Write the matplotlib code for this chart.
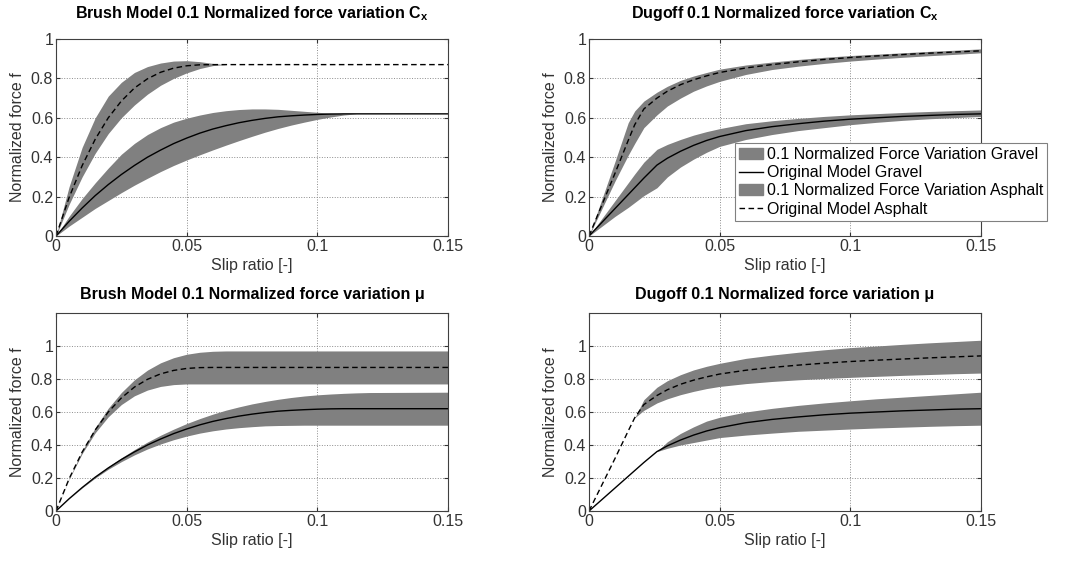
import matplotlib
matplotlib.use("Agg")
import matplotlib.pyplot as plt
from matplotlib.patches import Patch
from matplotlib.lines import Line2D

plt.rcParams["font.family"] = ["Liberation Sans", "DejaVu Sans"]
plt.rcParams["mathtext.fontset"] = "custom"
plt.rcParams["mathtext.rm"] = "Liberation Sans"
plt.rcParams["mathtext.bf"] = "Liberation Sans:bold"

# ---- brush model (left column) ----
brush_slip = [0, .005, .01, .015, .02, .025, .03, .035, .04, .045, .05, .055, .06,
              .065, .07, .075, .08, .085, .09, .095, .1, .105, .11, .115, .12, .15]

brush_asphalt = [0, 0.195, 0.357, 0.491, 0.600, 0.685, 0.751, 0.798, 0.831, 0.852, 0.864, 0.869, 0.87,
                 0.87, 0.87, 0.87, 0.87, 0.87, 0.87, 0.87, 0.87, 0.87, 0.87, 0.87, 0.87, 0.87]
brush_gravel = [0, 0.074, 0.142, 0.205, 0.261, 0.312, 0.358, 0.400, 0.436, 0.469, 0.497, 0.522, 0.543,
                0.560, 0.575, 0.587, 0.597, 0.605, 0.610, 0.614, 0.617, 0.619, 0.62, 0.62, 0.62, 0.62]

# Cx variation bands
brush_cx_asphalt_hi = [0, 0.25, 0.45, 0.60, 0.71, 0.78, 0.83, 0.86, 0.878, 0.888, 0.89, 0.885, 0.876,
                       0.87, 0.87, 0.87, 0.87, 0.87, 0.87, 0.87, 0.87, 0.87, 0.87, 0.87, 0.87, 0.87]
brush_cx_asphalt_lo = [0, 0.16, 0.30, 0.42, 0.52, 0.60, 0.665, 0.72, 0.765, 0.80, 0.828, 0.85, 0.865,
                       0.87, 0.87, 0.87, 0.87, 0.87, 0.87, 0.87, 0.87, 0.87, 0.87, 0.87, 0.87, 0.87]
brush_cx_gravel_hi = [0, 0.10, 0.19, 0.27, 0.345, 0.415, 0.47, 0.515, 0.55, 0.578, 0.598, 0.614, 0.627,
                      0.636, 0.642, 0.645, 0.645, 0.643, 0.638, 0.633, 0.628, 0.624, 0.621, 0.62, 0.62, 0.62]
brush_cx_gravel_lo = [0, 0.05, 0.095, 0.14, 0.18, 0.22, 0.258, 0.293, 0.327, 0.358, 0.386, 0.412, 0.437,
                      0.461, 0.484, 0.506, 0.527, 0.546, 0.563, 0.578, 0.592, 0.604, 0.614, 0.62, 0.62, 0.62]

# mu variation bands
brush_mu_asphalt_hi = [0, 0.196, 0.364, 0.505, 0.623, 0.718, 0.795, 0.854, 0.898, 0.929, 0.950, 0.962, 0.968,
                       0.97, 0.97, 0.97, 0.97, 0.97, 0.97, 0.97, 0.97, 0.97, 0.97, 0.97, 0.97, 0.97]
brush_mu_asphalt_lo = [0, 0.192, 0.348, 0.474, 0.571, 0.645, 0.698, 0.733, 0.755, 0.766, 0.77, 0.77, 0.77,
                       0.77, 0.77, 0.77, 0.77, 0.77, 0.77, 0.77, 0.77, 0.77, 0.77, 0.77, 0.77, 0.77]
brush_mu_gravel_hi = [0, 0.075, 0.144, 0.208, 0.268, 0.322, 0.372, 0.418, 0.459, 0.496, 0.530, 0.560, 0.587,
                      0.611, 0.631, 0.649, 0.664, 0.677, 0.688, 0.697, 0.704, 0.709, 0.713, 0.716, 0.718, 0.72]
brush_mu_gravel_lo = [0, 0.074, 0.140, 0.200, 0.253, 0.299, 0.340, 0.376, 0.406, 0.432, 0.454, 0.472, 0.486,
                      0.497, 0.505, 0.511, 0.516, 0.518, 0.519, 0.52, 0.52, 0.52, 0.52, 0.52, 0.52, 0.52]

# ---- Dugoff model (right column) ----
dugoff_slip = [0, .005, .01, .015, .0175, .021, .026, .03, .035, .04, .045, .05,
               .06, .07, .08, .09, .1, .11, .12, .13, .14, .15]

dugoff_asphalt = [0, 0.16, 0.32, 0.485, 0.565, 0.645, 0.70, 0.735, 0.768, 0.793, 0.813, 0.83,
                  0.853, 0.87, 0.884, 0.896, 0.906, 0.914, 0.921, 0.928, 0.934, 0.94]
dugoff_gravel = [0, 0.07, 0.14, 0.21, 0.245, 0.294, 0.36, 0.395, 0.43, 0.46, 0.485, 0.505,
                 0.535, 0.555, 0.57, 0.583, 0.593, 0.60, 0.607, 0.612, 0.617, 0.62]

dugoff_cx_asphalt_hi = [0, 0.19, 0.38, 0.575, 0.635, 0.685, 0.73, 0.76, 0.79, 0.812, 0.83, 0.847,
                        0.868, 0.883, 0.896, 0.907, 0.916, 0.923, 0.93, 0.937, 0.943, 0.95]
dugoff_cx_asphalt_lo = [0, 0.14, 0.28, 0.41, 0.47, 0.55, 0.615, 0.66, 0.70, 0.735, 0.762, 0.785,
                        0.82, 0.845, 0.862, 0.876, 0.888, 0.898, 0.907, 0.915, 0.922, 0.93]
dugoff_cx_gravel_hi = [0, 0.09, 0.18, 0.27, 0.315, 0.375, 0.44, 0.465, 0.49, 0.512, 0.53, 0.545,
                       0.57, 0.585, 0.597, 0.607, 0.615, 0.621, 0.627, 0.632, 0.636, 0.64]
dugoff_cx_gravel_lo = [0, 0.05, 0.10, 0.145, 0.17, 0.205, 0.245, 0.30, 0.35, 0.39, 0.425, 0.455,
                       0.49, 0.515, 0.535, 0.55, 0.565, 0.577, 0.587, 0.595, 0.601, 0.607]

dugoff_mu_asphalt_hi = [0, 0.16, 0.32, 0.485, 0.565, 0.675, 0.75, 0.79, 0.826, 0.855, 0.877, 0.895,
                        0.925, 0.945, 0.962, 0.977, 0.99, 1.0, 1.01, 1.019, 1.027, 1.035]
dugoff_mu_asphalt_lo = [0, 0.16, 0.32, 0.485, 0.565, 0.61, 0.655, 0.68, 0.705, 0.725, 0.742, 0.755,
                        0.772, 0.785, 0.795, 0.803, 0.81, 0.816, 0.822, 0.827, 0.832, 0.836]
dugoff_mu_gravel_hi = [0, 0.07, 0.14, 0.21, 0.245, 0.294, 0.36, 0.42, 0.47, 0.51, 0.545, 0.568,
                       0.60, 0.622, 0.64, 0.655, 0.668, 0.68, 0.69, 0.70, 0.71, 0.72]
dugoff_mu_gravel_lo = [0, 0.07, 0.14, 0.21, 0.245, 0.294, 0.36, 0.38, 0.40, 0.415, 0.43, 0.445,
                       0.46, 0.472, 0.483, 0.49, 0.497, 0.503, 0.508, 0.513, 0.517, 0.52]

x_ticks = [0, 0.05, 0.1, 0.15]
x_tick_labels = ["0", "0.05", "0.1", "0.15"]
y_ticks = [0, 0.2, 0.4, 0.6, 0.8, 1.0]
y_tick_labels = ["0", "0.2", "0.4", "0.6", "0.8", "1"]

titles = ["Brush Model 0.1 Normalized force variation C$_\\mathbf{x}$",
          "Dugoff 0.1 Normalized force variation C$_\\mathbf{x}$",
          "Brush Model 0.1 Normalized force variation \u03bc",
          "Dugoff 0.1 Normalized force variation \u03bc"]

legend_labels = ["0.1 Normalized Force Variation Gravel", "Original Model Gravel",
                 "0.1 Normalized Force Variation Asphalt", "Original Model Asphalt"]

band_color = "0.5"
text_color = "0.2"
W, H = 1081, 561

fig = plt.figure(figsize=(W / 100, H / 100), dpi=100)


def make_axes(left, top, right, bottom):
    return fig.add_axes([left / W, 1 - bottom / H, (right - left) / W, (bottom - top) / H])


ax_tl = make_axes(56, 39, 448, 236)
ax_tr = make_axes(589, 39, 981, 236)
ax_bl = make_axes(56, 313, 448, 511)
ax_br = make_axes(589, 313, 981, 511)

panels = [
    (ax_tl, brush_slip, brush_gravel, brush_cx_gravel_lo, brush_cx_gravel_hi,
     brush_asphalt, brush_cx_asphalt_lo, brush_cx_asphalt_hi, 1.0),
    (ax_tr, dugoff_slip, dugoff_gravel, dugoff_cx_gravel_lo, dugoff_cx_gravel_hi,
     dugoff_asphalt, dugoff_cx_asphalt_lo, dugoff_cx_asphalt_hi, 1.0),
    (ax_bl, brush_slip, brush_gravel, brush_mu_gravel_lo, brush_mu_gravel_hi,
     brush_asphalt, brush_mu_asphalt_lo, brush_mu_asphalt_hi, 1.2),
    (ax_br, dugoff_slip, dugoff_gravel, dugoff_mu_gravel_lo, dugoff_mu_gravel_hi,
     dugoff_asphalt, dugoff_mu_asphalt_lo, dugoff_mu_asphalt_hi, 1.2),
]

for (ax, s, grav, grav_lo, grav_hi, asph, asph_lo, asph_hi, ytop), title in zip(panels, titles):
    ax.fill_between(s, grav_lo, grav_hi, color=band_color, lw=0)
    ax.plot(s, grav, color="black", lw=1.0)
    ax.fill_between(s, asph_lo, asph_hi, color=band_color, lw=0)
    ax.plot(s, asph, color="black", lw=1.0, dashes=(4, 2.5))

    ax.set_xlim(0, 0.15)
    ax.set_ylim(0, ytop)
    ax.set_xticks(x_ticks)
    ax.set_xticklabels(x_tick_labels)
    ax.set_yticks(y_ticks)
    ax.set_yticklabels(y_tick_labels)
    ax.tick_params(direction="in", length=3, labelsize=11.5, colors=text_color,
                   top=True, right=True, pad=2)
    ax.grid(True, linestyle=":", color="0.55", lw=0.7)
    ax.set_axisbelow(True)
    for sp in ax.spines.values():
        sp.set_color("0.25")
        sp.set_linewidth(0.8)
    ax.set_xlabel("Slip ratio [-]", fontsize=11.5, color=text_color, labelpad=3)
    ax.set_ylabel("Normalized force f", fontsize=11.5, color=text_color, labelpad=4)
    ax.set_title(title, fontsize=11.5, fontweight="bold", pad=15 if ytop == 1.0 else 10)

handles = [Patch(facecolor=band_color, edgecolor=band_color),
           Line2D([], [], color="black", lw=1.0),
           Patch(facecolor=band_color, edgecolor=band_color),
           Line2D([], [], color="black", lw=1.0, dashes=(4, 2.5))]
leg = ax_tr.legend(handles, legend_labels, loc="upper left",
                   bbox_to_anchor=(735 / W, 1 - 143 / H), bbox_transform=fig.transFigure,
                   fontsize=11.5, frameon=True, fancybox=False, framealpha=1,
                   edgecolor="0.5", borderpad=0.25, labelspacing=0.2,
                   handlelength=1.5, handletextpad=0.25, borderaxespad=0)
leg.get_frame().set_linewidth(0.8)
leg.set_zorder(10)

fig.savefig("out.png", dpi=100)
